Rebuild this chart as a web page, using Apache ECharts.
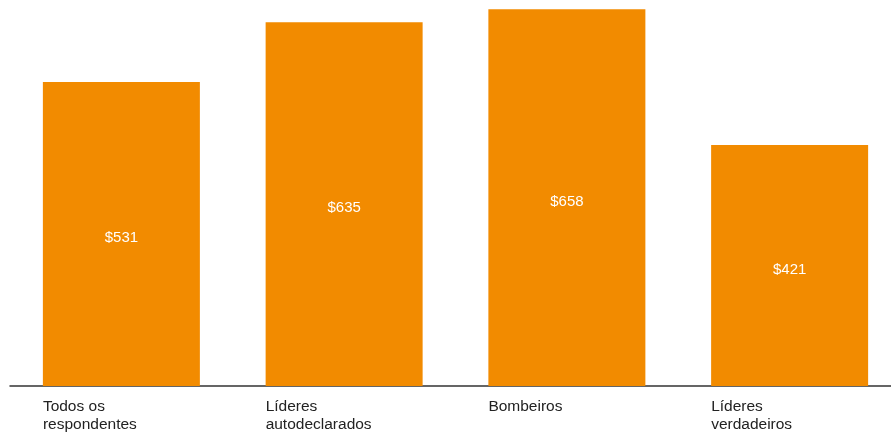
<!DOCTYPE html>
<html>
<head>
<meta charset="utf-8">
<script src="https://cdn.jsdelivr.net/npm/echarts@6/dist/echarts.min.js"></script>
<style>
  html, body { margin: 0; padding: 0; background: #fff; }
  #chart { width: 891px; height: 432px; }
</style>
</head>
<body>
<div id="chart"></div>
<script>
const categories = ['Todos os\nrespondentes', 'Líderes\nautodeclarados', 'Bombeiros', 'Líderes\nverdadeiros']
const values = [531, 635, 658, 421]

const font = 'Liberation Sans, Helvetica, Arial, sans-serif'
const chart = echarts.init(document.getElementById('chart'))

chart.setOption({
  animation: false,
  grid: { left: 10, width: 891, top: 0, bottom: 46, outerBoundsMode: 'none', containLabel: false },
  xAxis: {
    type: 'category',
    data: categories,
    axisLine: { lineStyle: { color: '#333', width: 1.5 } },
    axisTick: { show: false },
    axisLabel: { show: false }
  },
  yAxis: {
    type: 'value',
    min: 0,
    max: 674,
    show: false,
    splitLine: { show: false }
  },
  series: [
    {
      // category names under each bar, left-aligned to the bar edge
      type: 'bar',
      data: values,
      barWidth: 157,
      silent: true,
      z: 1,
      itemStyle: { color: 'rgba(0,0,0,0)' },
      label: {
        show: true,
        position: ['0%', '100%'],
        offset: [0, 12],
        align: 'left',
        verticalAlign: 'top',
        formatter: p => categories[p.dataIndex],
        color: '#222',
        fontFamily: font,
        fontSize: 15.5,
        lineHeight: 17.5
      }
    },
    {
      type: 'bar',
      data: values,
      barWidth: 157,
      barGap: '-100%',
      z: 2,
      itemStyle: { color: '#f28b00' },
      label: {
        show: true,
        position: 'inside',
        offset: [0, 4],
        formatter: p => '$' + p.value,
        color: '#fff',
        fontFamily: font,
        fontSize: 15
      }
    }
  ]
})
</script>
</body>
</html>
